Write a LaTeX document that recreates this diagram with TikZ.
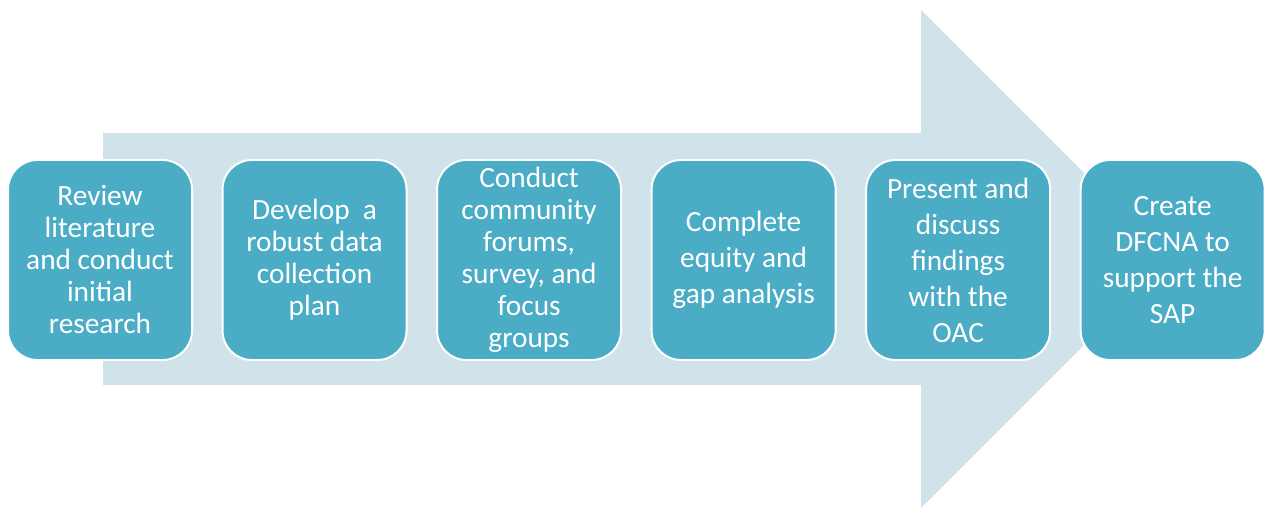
\documentclass[tikz,border=0pt]{standalone}
\usepackage{fontspec}
\setmainfont{Carlito}
\usepackage{xcolor}
\usetikzlibrary{positioning}
\definecolor{boxblue}{RGB}{75,172,198}
\definecolor{arrowgray}{RGB}{209,227,234}

\begin{document}
\begin{tikzpicture}[x=0.75pt, y=0.75pt, node distance=22.9pt,
    stepbox/.style={draw=white, line width=1.5pt, fill=boxblue, rounded corners=22pt,
        minimum width=138pt, minimum height=150pt, outer sep=0pt, inner sep=2pt,
        align=center, text=white, font=\fontsize{22}{24}\selectfont},
    widebox/.style={stepbox, font=\fontsize{22}{27}\selectfont}]
    \useasboundingbox (0,0) rectangle (1265,508);

    % 背景:大箭头
    \fill[arrowgray] (103,123) -- (921,123) -- (921,0) -- (1170,249)
        -- (921,498) -- (921,375) -- (103,375) -- cycle;

    % 六个步骤
    \node[stepbox] (review) at (100,248) {Review\\literature\\and conduct\\initial\\research};
    \node[stepbox, right=of review] (plan) {Develop~ a\\robust data\\collection\\plan};
    \node[stepbox, right=of plan] (forums) {Conduct\\community\\forums,\\survey, and\\focus\\groups};
    \node[widebox, right=of forums] (gap) {Complete\\equity and\\gap analysis};
    \node[widebox, right=of gap] (present) {Present and\\discuss\\findings\\with the\\OAC};
    \node[widebox, right=of present] (dfcna) {Create\\DFCNA to\\support the\\SAP};
\end{tikzpicture}
\end{document}
